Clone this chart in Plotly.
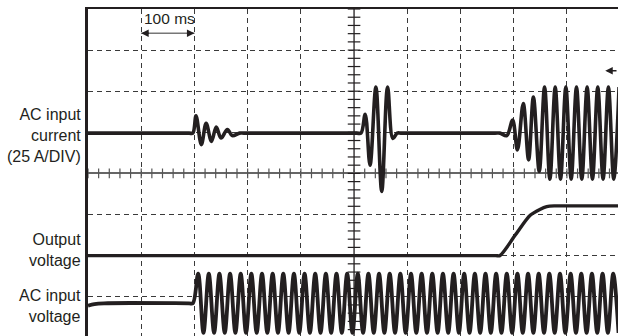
import numpy as np
import plotly.graph_objects as go

# scope screen: 100 ms per horizontal division, vertical unit = 1 division
ink = '#231f20'

# AC input current, offsets (div) from its trace baseline
cur_base = 0.98
cur_t = [0, 190, 197, 203, 213, 222, 232, 241, 250, 262, 271, 285, 293,
         505, 513, 521, 530, 541, 552, 563, 573, 581, 590,
         765, 774, 787, 798, 807, 818, 828, 837, 848, 858, 868, 878, 888, 898,
         908, 918, 928, 938, 948, 958, 968, 978, 988, 998]
cur_v = [0, 0, 0, 0.42, -0.28, 0.24, -0.20, 0.15, -0.12, 0.09, -0.06, 0, 0,
         0, 0, 0.46, -0.78, 1.12, -1.42, 1.12, -0.13, 0, 0,
         0, 0, -0.06, 0.32, -0.41, 0.72, -0.65, 0.88, -0.93, 1.12, -1.12, 1.12, -1.12, 1.12,
         -1.12, 1.12, -1.12, 1.12, -1.12, 1.12, -1.12, 1.12, -1.12, 1.12]

# output voltage (div)
out_t = [0, 766, 774, 803, 831, 850, 862, 876, 890, 996]
out_v = [-2.0, -2.0, -2.0, -1.5, -1.02, -0.87, -0.81, -0.79, -0.79, -0.79]

# AC input voltage (div): flat lead-in, then mains peaks / troughs
vin_lead_t = [0, 12, 30, 190, 197]
vin_lead_v = [-3.22, -3.18, -3.16, -3.16, -3.16]
vin_peak_t = [207, 227, 247, 267, 287, 307, 327, 347, 367, 387,
              407, 427, 447, 467, 487, 507, 527, 547, 567, 587,
              607, 627, 647, 667, 687, 707, 727, 747, 767, 787,
              807, 827, 847, 867, 887, 907, 927, 947, 967, 987]
vin_trough_t = [217, 237, 257, 277, 297, 317, 337, 357, 377, 397,
                417, 437, 457, 477, 497, 517, 537, 557, 577, 597,
                617, 637, 657, 677, 697, 717, 737, 757, 777, 797,
                817, 837, 857, 877, 897, 917, 937, 957, 977, 997]
vin_peak = -2.44
vin_trough = -3.88

labels = [('AC input<br>current<br>(25 A/DIV)', 0.93),
          ('Output<br>voltage', -1.87),
          ('AC input<br>voltage', -3.23)]

x_max = 996
y_min, y_max = -3.956, 4

fig = go.Figure()

# graticule tick marks on the centre lines
hx = np.arange(0, 1000, 20)
fig.add_scatter(x=hx, y=np.zeros(len(hx)), mode='markers', hoverinfo='skip',
                marker=dict(symbol='line-ns', size=7, line=dict(width=1.2, color='#555')))
vy = np.arange(-4, 4.01, 0.2)
fig.add_scatter(x=np.full(len(vy), 500), y=vy, mode='markers', hoverinfo='skip',
                marker=dict(symbol='line-ew', size=9, line=dict(width=1.2, color=ink)))

fig.add_scatter(x=cur_t, y=np.array(cur_v) + cur_base, mode='lines', hoverinfo='skip',
                line=dict(color=ink, width=3.6, shape='spline', smoothing=1))
fig.add_scatter(x=out_t, y=out_v, mode='lines', hoverinfo='skip',
                line=dict(color=ink, width=3.4, shape='spline', smoothing=0.8))

vin_t = list(vin_lead_t)
vin_v = list(vin_lead_v)
for tp, tt in zip(vin_peak_t, vin_trough_t):
    vin_t += [tp, tt]
    vin_v += [vin_peak, vin_trough]
fig.add_scatter(x=vin_t, y=vin_v, mode='lines', hoverinfo='skip',
                line=dict(color=ink, width=3.8, shape='spline', smoothing=1))

fig.add_shape(type='line', x0=500, x1=500, y0=y_min, y1=y_max, layer='below',
              line=dict(color=ink, width=1.3))
fig.add_shape(type='line', x0=100, x1=200, y0=3.41, y1=3.41,
              line=dict(color='#777', width=1.5))
for x, ax in [(100, 9), (200, -9)]:
    fig.add_annotation(x=x, y=3.41, ax=ax, ay=0, text='', showarrow=True,
                       arrowhead=2, arrowsize=1, arrowwidth=1.5, arrowcolor=ink)
fig.add_annotation(x=972, y=2.5, ax=14, ay=0, text='', showarrow=True,
                   arrowhead=2, arrowsize=1, arrowwidth=1.5, arrowcolor=ink)
fig.add_annotation(x=101, y=3.76, text='100 ms', showarrow=False, xanchor='left',
                   font=dict(size=15.5, color=ink))

for txt, y in labels:
    fig.add_annotation(x=-0.01, xref='paper', y=y, text=txt, showarrow=False,
                       xanchor='right', align='right', font=dict(size=16, color=ink))

fig.update_layout(
    width=618, height=336,
    margin=dict(l=88, r=0, t=9, b=0),
    paper_bgcolor='white', plot_bgcolor='white',
    showlegend=False,
    font=dict(family='Liberation Sans, Arial, sans-serif', color=ink),
    xaxis=dict(range=[0, x_max], side='top', showline=True, linewidth=2, linecolor=ink,
               tickvals=[100, 200, 300, 400, 600, 700, 800, 900], showticklabels=False,
               ticks='', showgrid=True, gridcolor='#3a3a3a', gridwidth=1,
               griddash='5px,4px', zeroline=False),
    yaxis=dict(range=[y_min, y_max], showline=True, linewidth=2.6, linecolor=ink,
               tickvals=[-3, -2, -1, 1, 2, 3], showticklabels=False, ticks='',
               showgrid=True, gridcolor='#3a3a3a', gridwidth=1, griddash='5px,4px',
               zeroline=True, zerolinecolor='#666', zerolinewidth=1.6),
)

# page has a default 8px body margin; drop it so the figure fills the window
fig.write_html('out.html', config={'displayModeBar': False},
               post_script="document.body.style.margin='0';document.body.style.overflow='hidden';")
